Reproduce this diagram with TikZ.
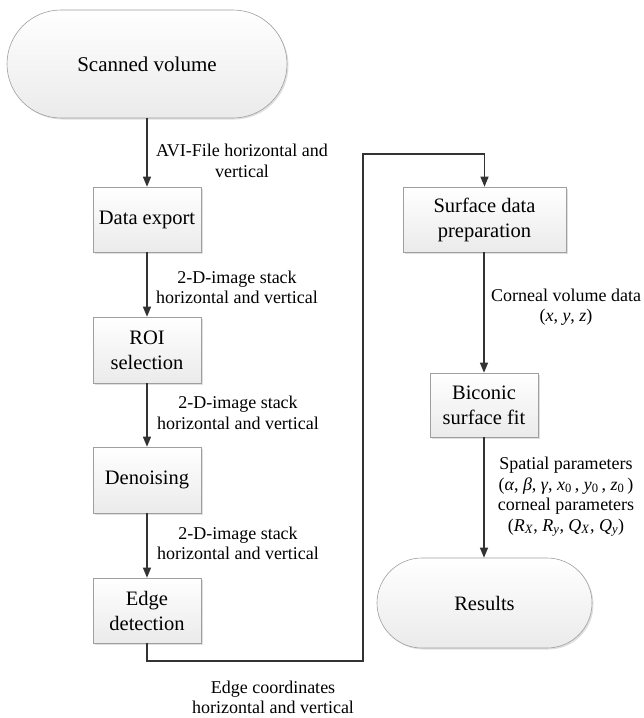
\documentclass[tikz,border=0pt]{standalone}
\usepackage{fontspec}
\setmainfont{Liberation Serif}
\usetikzlibrary{arrows.meta,shadows}
\tikzset{
  boxbase/.style={draw=gray!75, line width=0.6pt, top color=white, bottom color=gray!16,
    drop shadow={shadow xshift=1.5pt, shadow yshift=-1.5pt, opacity=0.25},
    align=center, inner sep=2pt, font=\fontsize{20.5}{25}\selectfont},
  procbox/.style={boxbase, minimum width=108pt, minimum height=65pt},
  termbox/.style={boxbase, rounded corners=45pt},
  conn/.style={draw=black!80, line width=1.1pt, -{Triangle[length=10pt,width=8pt]}},
  plain/.style={draw=black!80, line width=1.1pt},
  elabel/.style={align=center, inner sep=0pt, font=\fontsize{18}{20.5}\selectfont}
}
\begin{document}
\begin{tikzpicture}[x=1pt,y=-1pt]
\useasboundingbox (0,0) rectangle (643,718);
% nodes
\node[termbox, rounded corners=54pt, minimum width=280pt, minimum height=108pt, font=\fontsize{21}{25}\selectfont] (scan) at (147,64) {Scanned volume};
\node[procbox] (export) at (147,219.5) {Data export};
\node[procbox, minimum height=66pt] (roi) at (147,350) {ROI\\selection};
\node[procbox, minimum height=66pt] (denoise) at (147,480) {Denoising};
\node[procbox] (edge) at (147,610.5) {Edge\\detection};
\node[procbox, minimum width=163pt] (surf) at (484.5,219.5) {Surface data\\preparation};
\node[procbox, minimum height=64pt] (bicon) at (484,405) {Biconic\\surface fit};
\node[termbox, minimum width=215pt, minimum height=90pt] (res) at (484.5,603) {Results};
% connectors
\coordinate (c1) at (147,661);
\coordinate (c2) at (363,661);
\coordinate (c3) at (363,154);
\coordinate (c4) at (484.5,154);
\draw[conn] (scan.south) -- (export.north);
\draw[conn] (export.south) -- (roi.north);
\draw[conn] (roi.south) -- (denoise.north);
\draw[conn] (denoise.south) -- (edge.north);
\draw[plain] (edge.south) -- (c1) -- (c2) -- (c3) -- (c4);
\draw[conn] (c4) -- (surf.north);
\draw[conn] (surf.south -| bicon.north) -- (bicon.north);
\draw[conn] (bicon.south) -- (bicon.south |- res.north);
% labels
\node[elabel] (l1) at (242,161) {AVI-File horizontal and\\vertical};
\node[elabel] (l2) at (237,287.5) {2-D-image stack\\horizontal and vertical};
\node[elabel] (l3) at (238,413) {2-D-image stack\\horizontal and vertical};
\node[elabel] (l4) at (238,543.5) {2-D-image stack\\horizontal and vertical};
\node[elabel] (l5) at (273,697.5) {Edge coordinates\\horizontal and vertical};
\node[elabel] (l6) at (566,307) {Corneal volume data\\(\textit{x}, \textit{y}, \textit{z})};
\node[elabel] (l7) at (566,497) {Spatial parameters\\(\textit{α}, \textit{β}, \textit{γ}, \textit{x}\textsubscript{0}\,, \textit{y}\textsubscript{0}\,, \textit{z}\textsubscript{0}\,)\\corneal parameters\\(\textit{R}\textsubscript{\textit{X}}, \textit{R}\textsubscript{\textit{y}}, \textit{Q}\textsubscript{\textit{X}}, \textit{Q}\textsubscript{\textit{y}})};
\end{tikzpicture}
\end{document}
